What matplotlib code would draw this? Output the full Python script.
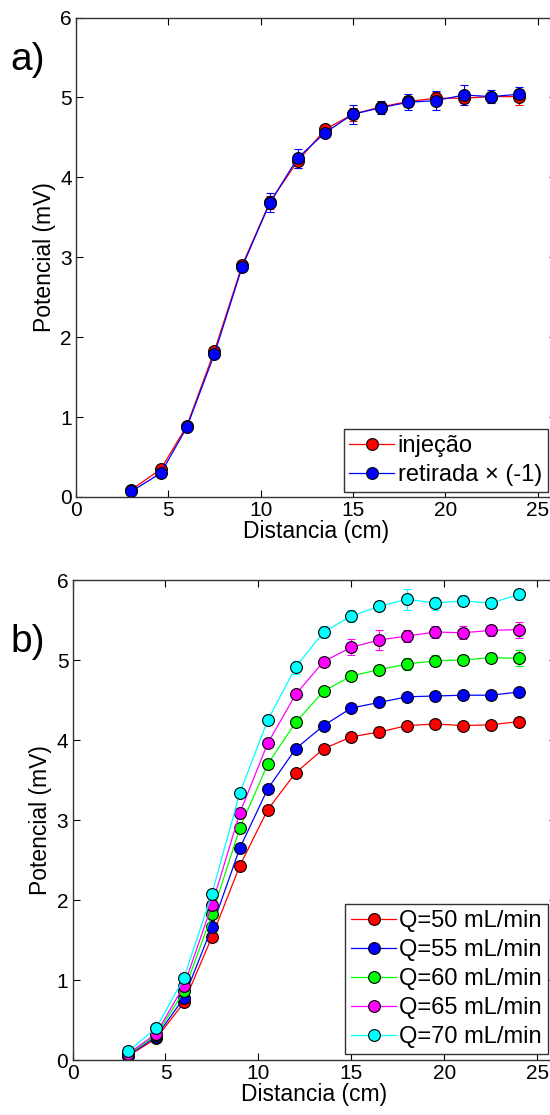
import numpy as np
import matplotlib
matplotlib.use('Agg')
import matplotlib.pyplot as plt

plt.rcParams['font.family'] = ['Liberation Sans', 'DejaVu Sans']

# painel a) injeção / retirada
dist_a = [3, 4.6, 6, 7.5, 9, 10.5, 12, 13.5, 15, 16.5, 18, 19.5, 21, 22.5, 24]
injecao = [0.09, 0.35, 0.89, 1.83, 2.90, 3.69, 4.20, 4.60, 4.79, 4.88, 4.95, 4.99, 4.99, 5.01, 5.01]
injecao_err = [0.02, 0.03, 0.03, 0.04, 0.04, 0.08, 0.08, 0.05, 0.08, 0.06, 0.07, 0.08, 0.06, 0.05, 0.10]
retirada = [0.07, 0.30, 0.87, 1.79, 2.88, 3.68, 4.24, 4.56, 4.79, 4.87, 4.94, 4.96, 5.03, 5.01, 5.04]
retirada_err = [0.02, 0.03, 0.03, 0.04, 0.04, 0.12, 0.12, 0.05, 0.12, 0.08, 0.10, 0.12, 0.13, 0.08, 0.09]
nomes_a = ['injeção', 'retirada × (-1)']

# painel b) vazões
dist_b = [3, 4.5, 6, 7.5, 9, 10.5, 12, 13.5, 15, 16.5, 18, 19.5, 21, 22.5, 24]
vazoes = ['Q=50 mL/min', 'Q=55 mL/min', 'Q=60 mL/min', 'Q=65 mL/min', 'Q=70 mL/min']
cores = ['#ff0000', '#0000ff', '#00ff00', '#ff00ff', '#00ffff']
q50 = [0.05, 0.27, 0.72, 1.54, 2.43, 3.13, 3.59, 3.89, 4.04, 4.10, 4.18, 4.20, 4.18, 4.19, 4.23]
q55 = [0.06, 0.29, 0.78, 1.66, 2.65, 3.39, 3.89, 4.18, 4.40, 4.47, 4.54, 4.55, 4.56, 4.56, 4.60]
q60 = [0.07, 0.31, 0.86, 1.82, 2.90, 3.70, 4.22, 4.61, 4.80, 4.88, 4.95, 4.99, 5.00, 5.03, 5.02]
q65 = [0.08, 0.33, 0.93, 1.94, 3.09, 3.96, 4.57, 4.98, 5.16, 5.25, 5.30, 5.35, 5.34, 5.37, 5.38]
q70 = [0.11, 0.40, 1.03, 2.08, 3.34, 4.25, 4.91, 5.35, 5.55, 5.67, 5.76, 5.71, 5.74, 5.71, 5.82]
q50_err = [0.02, 0.02, 0.03, 0.03, 0.04, 0.04, 0.04, 0.04, 0.04, 0.06, 0.05, 0.04, 0.04, 0.04, 0.04]
q55_err = [0.02, 0.02, 0.03, 0.03, 0.04, 0.04, 0.04, 0.04, 0.04, 0.04, 0.04, 0.04, 0.04, 0.04, 0.04]
q60_err = [0.02, 0.02, 0.03, 0.03, 0.04, 0.04, 0.05, 0.05, 0.05, 0.06, 0.07, 0.07, 0.06, 0.06, 0.10]
q65_err = [0.02, 0.02, 0.03, 0.03, 0.04, 0.04, 0.05, 0.05, 0.10, 0.12, 0.08, 0.07, 0.08, 0.07, 0.10]
q70_err = [0.02, 0.02, 0.03, 0.03, 0.04, 0.04, 0.08, 0.07, 0.08, 0.06, 0.13, 0.08, 0.07, 0.04, 0.07]
series_b = [q50, q55, q60, q65, q70]
erros_b = [q50_err, q55_err, q60_err, q65_err, q70_err]

W, H = 550, 1115
fig = plt.figure(figsize=(W / 100, H / 100), dpi=100)


def eixo(l, r, t, b):
    """cria eixo a partir de coordenadas em pixels"""
    return fig.add_axes([l / W, 1 - b / H, (r - l) / W, (b - t) / H])


def estilo(ax):
    ax.set_xlim(0, 26)
    ax.set_ylim(0, 6)
    ax.set_xticks([0, 5, 10, 15, 20, 25])
    ax.set_yticks([0, 1, 2, 3, 4, 5, 6])
    ax.tick_params(direction='in', top=True, right=True, labelsize=15, length=5, width=0.8, pad=3)
    for s in ax.spines.values():
        s.set_linewidth(1.0)
        s.set_color('#333333')
    ax.set_xlabel('Distancia (cm)', fontsize=16.5, labelpad=0)
    ax.set_ylabel('Potencial (mV)', fontsize=16.5, labelpad=3)


def serie(ax, x, y, e, cor):
    c = ax.errorbar(x, y, yerr=e, color=cor, ecolor=cor, elinewidth=0.8, capsize=3, capthick=0.8,
                    lw=0.9, marker='o', ms=8.5, mfc=cor, mec='black', mew=0.8)
    return c[0]


def legenda(ax, handles, labels, y_spodaj):
    leg = ax.legend(handles, labels, loc='lower right', bbox_to_anchor=(548 / W, 1 - y_spodaj / H),
                    bbox_transform=fig.transFigure, fontsize=17, handlelength=1.9, handletextpad=0.15,
                    borderpad=0.25, labelspacing=0.3, borderaxespad=0, fancybox=False, framealpha=1)
    leg.get_frame().set_edgecolor('#333333')
    leg.get_frame().set_linewidth(1.0)


# a)
ax1 = eixo(76, 556, 17.5, 497)
h1 = serie(ax1, dist_a, injecao, injecao_err, '#ff0000')
h2 = serie(ax1, dist_a, retirada, retirada_err, '#0000ff')
estilo(ax1)
legenda(ax1, [h1, h2], nomes_a, 492)

# b)
ax2 = eixo(72.5, 556, 580, 1060)
hb = []
for y, e, cor in zip(series_b, erros_b, cores):
    hb.append(serie(ax2, dist_b, y, e, cor))
estilo(ax2)
legenda(ax2, hb, vazoes, 1054)

fig.text(10 / W, 1 - 60 / H, 'a)', fontsize=28, va='center', ha='left')
fig.text(10 / W, 1 - 642 / H, 'b)', fontsize=28, va='center', ha='left')

fig.savefig('out.png', dpi=100)
